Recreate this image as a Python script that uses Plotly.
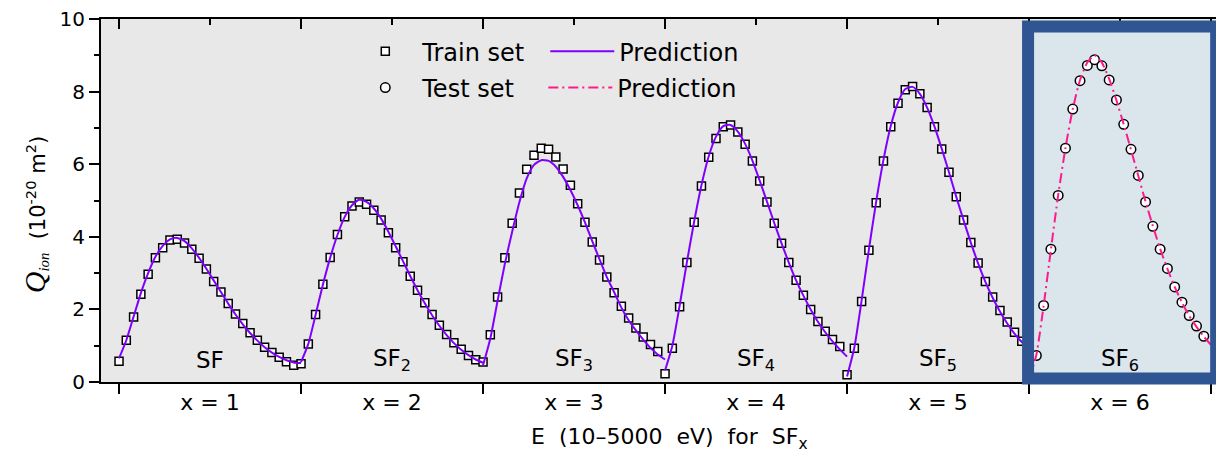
import plotly.graph_objects as go

# ---------------- data ----------------
segment_labels = ["x = 1", "x = 2", "x = 3", "x = 4", "x = 5", "x = 6"]
molecule_labels = ["SF", "SF<sub>2</sub>", "SF<sub>3</sub>", "SF<sub>4</sub>",
                   "SF<sub>5</sub>", "SF<sub>6</sub>"]
y_ticks = [0, 2, 4, 6, 8, 10]

STEPS = 25  # energy samples per molecule segment (10-5000 eV)

train_SF = [0.57, 1.15, 1.79, 2.42, 2.97, 3.42, 3.70, 3.91, 3.93, 3.83, 3.66, 3.41, 3.11,
            2.77, 2.48, 2.16, 1.87, 1.61, 1.36, 1.15, 0.96, 0.81, 0.68, 0.56, 0.46]
train_SF2 = [0.50, 1.05, 1.86, 2.69, 3.43, 4.06, 4.55, 4.85, 4.96, 4.90, 4.73, 4.46, 4.11,
             3.70, 3.31, 2.91, 2.53, 2.18, 1.86, 1.56, 1.31, 1.08, 0.90, 0.73, 0.61]
train_SF3 = [0.55, 1.30, 2.34, 3.42, 4.37, 5.21, 5.86, 6.25, 6.44, 6.41, 6.20, 5.87, 5.42,
             4.91, 4.40, 3.86, 3.36, 2.89, 2.46, 2.09, 1.76, 1.49, 1.24, 1.03, 0.84]
train_SF4 = [0.23, 0.93, 2.07, 3.29, 4.40, 5.40, 6.19, 6.71, 7.03, 7.08, 6.89, 6.55, 6.09,
             5.54, 4.96, 4.37, 3.82, 3.29, 2.80, 2.39, 2.00, 1.67, 1.40, 1.17, 0.98]
train_SF5 = [0.20, 0.93, 2.22, 3.63, 4.94, 6.09, 7.03, 7.68, 8.05, 8.14, 7.94, 7.56, 7.03,
             6.42, 5.78, 5.10, 4.46, 3.84, 3.28, 2.77, 2.34, 1.97, 1.65, 1.37, 1.12]
test_SF6 = [0.73, 2.11, 3.66, 5.14, 6.44, 7.52, 8.30, 8.72, 8.88, 8.71, 8.32, 7.77,
            7.10, 6.41, 5.69, 4.96, 4.29, 3.66, 3.13, 2.62, 2.20, 1.83, 1.54, 1.26]

pred_SF = [0.65, 1.15, 1.80, 2.45, 3.00, 3.45, 3.75, 3.93, 3.97, 3.88, 3.68, 3.42, 3.12,
           2.80, 2.48, 2.16, 1.86, 1.59, 1.35, 1.14, 0.96, 0.81, 0.69, 0.60, 0.54, 0.52]
pred_SF2 = [0.55, 1.05, 1.85, 2.68, 3.42, 4.05, 4.55, 4.87, 5.02, 4.96, 4.78, 4.50, 4.14,
            3.74, 3.33, 2.92, 2.53, 2.17, 1.84, 1.55, 1.29, 1.07, 0.89, 0.74, 0.62, 0.53]
pred_SF3 = [0.46, 1.20, 2.24, 3.26, 4.14, 4.96, 5.61, 5.98, 6.11, 6.09, 5.93, 5.65, 5.29,
            4.87, 4.40, 3.88, 3.38, 2.89, 2.48, 2.05, 1.70, 1.42, 1.17, 0.94, 0.76, 0.62]
pred_SF4 = [0.32, 1.00, 2.10, 3.30, 4.42, 5.42, 6.22, 6.76, 7.05, 7.08, 6.90, 6.56, 6.10,
            5.55, 4.97, 4.38, 3.82, 3.29, 2.80, 2.38, 2.00, 1.66, 1.37, 1.12, 0.90, 0.70]
pred_SF5 = [0.15, 0.95, 2.25, 3.65, 4.97, 6.12, 7.05, 7.70, 8.07, 8.13, 7.94, 7.56, 7.04,
            6.43, 5.78, 5.10, 4.46, 3.84, 3.27, 2.76, 2.32, 1.94, 1.61, 1.33, 1.10, 0.92]
pred_SF6 = [0.05, 0.75, 2.10, 3.65, 5.15, 6.45, 7.52, 8.32, 8.80, 9.00, 8.80, 8.35, 7.76,
            7.10, 6.40, 5.68, 4.97, 4.30, 3.67, 3.12, 2.62, 2.19, 1.82, 1.52, 1.25, 1.02]

train_sets = [train_SF, train_SF2, train_SF3, train_SF4, train_SF5]
train_preds = [pred_SF, pred_SF2, pred_SF3, pred_SF4, pred_SF5]

# ---------------- styles ----------------
FONT = "DejaVu Sans"
PURPLE = "#8000FF"
PINK = "#FF1A8C"
PLOT_BG = "#E8E8E8"
BOX_FILL = "#DAE5EC"
BOX_LINE = "#2F5592"
X_RANGE = [-0.099, 6.06]

square_marker = dict(symbol="square", size=8, color="white",
                     line=dict(color="black", width=1.5))
circle_marker = dict(symbol="circle", size=9.5, color="white",
                     line=dict(color="black", width=1.5))
pink_dash = "10px,4px,2px,4px"

fig = go.Figure()

# markers first (lines are drawn over them)
for i, vals in enumerate(train_sets):
    fig.add_trace(go.Scatter(
        x=[i + k / STEPS for k in range(len(vals))], y=vals, mode="markers",
        marker=square_marker, showlegend=False, hoverinfo="skip"))

fig.add_trace(go.Scatter(
    x=[5 + (k + 1) / STEPS for k in range(len(test_SF6))], y=test_SF6, mode="markers",
    marker=circle_marker, showlegend=False, hoverinfo="skip"))

for i, vals in enumerate(train_preds):
    fig.add_trace(go.Scatter(
        x=[i + k / STEPS for k in range(len(vals))], y=vals, mode="lines",
        line=dict(color=PURPLE, width=2, shape="spline", smoothing=0.6),
        showlegend=False, hoverinfo="skip"))

fig.add_trace(go.Scatter(
    x=[5 + k / STEPS for k in range(len(pred_SF6))], y=pred_SF6, mode="lines",
    line=dict(color=PINK, width=2, dash=pink_dash, shape="spline", smoothing=0.6),
    showlegend=False, hoverinfo="skip"))

# invisible trace to activate the top (mirror) axis
fig.add_trace(go.Scatter(x=[None], y=[None], xaxis="x2", mode="markers",
                         showlegend=False, hoverinfo="skip"))

# legend entries
fig.add_trace(go.Scatter(x=[None], y=[None], mode="markers", name="Train set",
                         marker=square_marker, legend="legend"))
fig.add_trace(go.Scatter(x=[None], y=[None], mode="lines", name="Prediction",
                         line=dict(color=PURPLE, width=2), legend="legend"))
fig.add_trace(go.Scatter(x=[None], y=[None], mode="markers", name="Test set",
                         marker=circle_marker, legend="legend2"))
fig.add_trace(go.Scatter(x=[None], y=[None], mode="lines", name="Prediction",
                         line=dict(color=PINK, width=2, dash=pink_dash), legend="legend2"))

annotations = []
for i, lab in enumerate(molecule_labels):
    annotations.append(dict(x=i + 0.5, y=0.6, xref="x", yref="y", text=lab,
                            showarrow=False, font=dict(family=FONT, size=23, color="black"),
                            xanchor="center", yanchor="middle"))

annotations.append(dict(
    x=0.5067, y=-0.157, xref="paper", yref="paper",
    text="E\u00a0\u00a0(10\u20135000\u00a0\u00a0eV)\u00a0\u00a0for\u00a0\u00a0SF<sub>x</sub>",
    showarrow=False, font=dict(family=FONT, size=22, color="black"),
    xanchor="center", yanchor="middle"))

annotations.append(dict(
    x=-0.059, y=0.462, xref="paper", yref="paper", textangle=-90,
    text=("<span style=\"font-family:Liberation Serif;font-size:30px\"><i>Q</i></span>"
          "<sub><span style=\"font-family:Liberation Serif\"><i>ion</i></span></sub>"
          "\u00a0\u00a0(10<sup>-20</sup> m<sup>2</sup>)"),
    showarrow=False, font=dict(family=FONT, size=21, color="black"),
    xanchor="center", yanchor="middle"))

shapes = [
    dict(type="rect", xref="paper", yref="paper", x0=0.827, x1=0.9948, y0=0.0097, y1=0.979,
         fillcolor=BOX_FILL, line=dict(width=0), layer="below"),
    dict(type="rect", xref="paper", yref="paper", x0=0.827, x1=0.9948, y0=0.0097, y1=0.979,
         fillcolor="rgba(0,0,0,0)", line=dict(color=BOX_LINE, width=12), layer="above"),
]

# the page body has an 8px default margin, so the figure is sized to fit inside it
fig.update_layout(
    width=1216, height=447,
    margin=dict(l=93, r=2, t=11, b=73, autoexpand=False),
    paper_bgcolor="white", plot_bgcolor=PLOT_BG,
    font=dict(family=FONT, size=20, color="black"),
    xaxis=dict(range=X_RANGE, tickmode="array", automargin=False,
               tickvals=[i + 0.5 for i in range(len(segment_labels))],
               ticktext=segment_labels, ticks="outside", ticklen=0,
               tickcolor="rgba(0,0,0,0)", tickfont=dict(family=FONT, size=22),
               ticklabeloverflow="allow",
               showline=True, linecolor="black", linewidth=2,
               showgrid=False, zeroline=False,
               minor=dict(tickmode="array", tickvals=list(range(7)), ticks="outside",
                          ticklen=10, tickwidth=1.5, tickcolor="black", showgrid=False)),
    xaxis2=dict(range=X_RANGE, overlaying="x", side="top", anchor="y", automargin=False,
                tickmode="array", tickvals=list(range(7)), ticks="inside", ticklen=10,
                tickwidth=1.5, tickcolor="black", showticklabels=False,
                showline=True, linecolor="black", linewidth=2,
                showgrid=False, zeroline=False,
                minor=dict(tickmode="array", tickvals=[i + 0.5 for i in range(6)],
                           ticks="inside", ticklen=6, tickwidth=1.5, tickcolor="black",
                           showgrid=False)),
    yaxis=dict(range=[0, 10], tickmode="array", tickvals=y_ticks, ticks="outside",
               automargin=False, ticklabeloverflow="allow",
               ticklen=10, tickwidth=1.5, tickcolor="black",
               tickfont=dict(family=FONT, size=20),
               showline=True, linecolor="black", linewidth=2, mirror="ticks",
               showgrid=False, zeroline=False,
               minor=dict(tickmode="array", tickvals=[1, 3, 5, 7, 9], ticks="outside",
                          ticklen=5, tickwidth=1.5, tickcolor="black", showgrid=False)),
    legend=dict(orientation="h", x=0.2206, xanchor="left", y=0.91, yanchor="middle",
                bgcolor="rgba(0,0,0,0)", borderwidth=0, font=dict(family=FONT, size=24),
                itemwidth=64, entrywidth=118, itemclick=False, itemdoubleclick=False),
    legend2=dict(orientation="h", x=0.2206, xanchor="left", y=0.81, yanchor="middle",
                 bgcolor="rgba(0,0,0,0)", borderwidth=0, font=dict(family=FONT, size=24),
                 itemwidth=64, entrywidth=116, itemclick=False, itemdoubleclick=False),
    annotations=annotations,
    shapes=shapes,
)

fig.write_html("out.html")
